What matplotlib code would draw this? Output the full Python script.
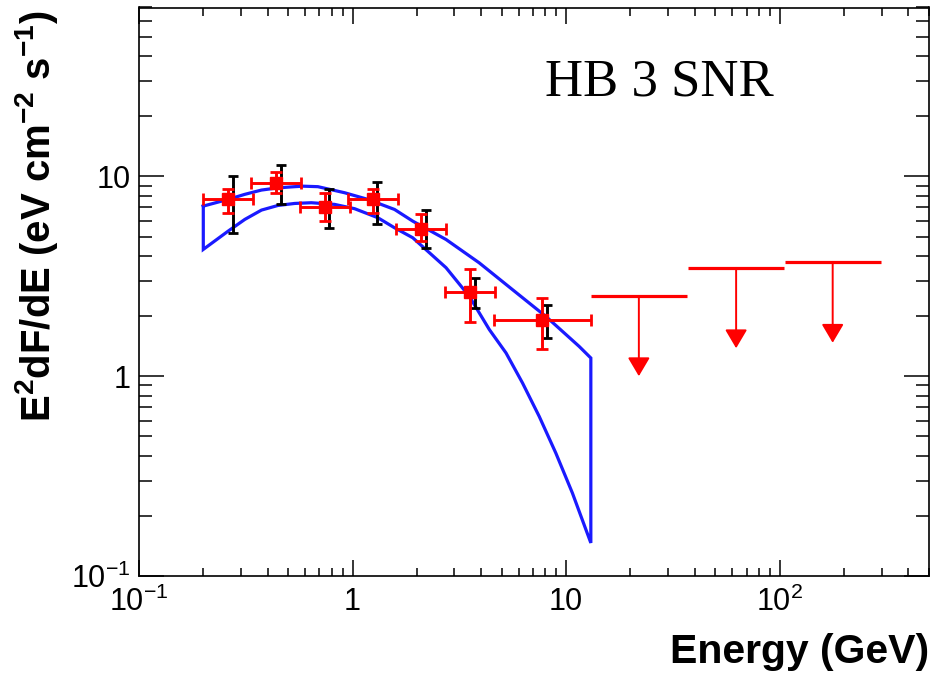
import matplotlib
matplotlib.use("Agg")
import matplotlib.pyplot as plt
import matplotlib.transforms as mtransforms
from matplotlib.ticker import FixedLocator, FixedFormatter, NullFormatter
import numpy as np

# ---------------- data ----------------
pt_x = [0.261, 0.44, 0.74, 1.245, 2.09, 3.55, 7.74]
pt_y = [7.67, 9.29, 7.05, 7.67, 5.48, 2.64, 1.92]
bin_lo = [0.2, 0.336, 0.565, 0.95, 1.6, 2.71, 4.57]
bin_hi = [0.34, 0.575, 0.968, 1.63, 2.74, 4.64, 13.1]
stat_lo = [6.58, 8.28, 5.97, 6.58, 4.74, 1.87, 1.37]
stat_hi = [8.67, 10.5, 8.28, 8.67, 6.46, 3.44, 2.47]
sys_lo = [5.22, 7.24, 5.53, 5.80, 4.40, 2.20, 1.55]
sys_hi = [10.03, 11.35, 8.60, 9.40, 6.78, 3.10, 2.28]

ul_x = [21.9, 62.5, 177.0]
ul_lo = [13.1, 37.2, 106.0]
ul_hi = [36.9, 105.0, 298.0]
ul_y = [2.51, 3.48, 3.73]
ul_end = [1.0, 1.38, 1.47]

band_up_x = [0.2, 0.2614, 0.313, 0.3745, 0.447, 0.536, 0.586, 0.688, 0.918, 1.179,
             1.572, 1.913, 2.74, 3.92, 5.61, 8.04, 11.5, 13.05]
band_up_y = [7.10, 7.67, 8.13, 8.54, 8.76, 8.88, 8.93, 8.88, 8.28, 7.67,
             6.83, 5.97, 4.83, 3.69, 2.71, 1.99, 1.41, 1.233]
band_lo_x = [0.2, 0.2614, 0.313, 0.3745, 0.447, 0.536, 0.641, 0.824, 1.022, 1.313,
             1.572, 1.913, 2.74, 3.52, 4.37, 5.23, 6.25, 7.48, 8.95, 10.7, 13.05]
band_lo_y = [4.31, 5.32, 6.09, 6.78, 7.15, 7.32, 7.38, 7.24, 6.89, 6.21,
             5.53, 4.93, 3.49, 2.51, 1.71, 1.307, 0.924, 0.629, 0.412, 0.26, 0.1464]

x_major = [0.1, 1, 10, 100]
x_major_labels = [r"$10^{-1}$", "1", "10", r"$10^{2}$"]
y_major = [0.1, 1, 10]
y_major_labels = [r"$10^{-1}$", "1", "10"]

title_text = "HB 3 SNR"
xlabel_text = "Energy (GeV)"
ylabel_text = r"E$^{\mathbf{2}}$dF/dE (eV cm$^{\mathbf{-2}}$ s$^{\mathbf{-1}}$)"

# ---------------- style ----------------
plt.rcParams["font.family"] = ["Liberation Sans", "DejaVu Sans"]
plt.rcParams["mathtext.fontset"] = "custom"
plt.rcParams["mathtext.rm"] = "Liberation Sans"
plt.rcParams["mathtext.it"] = "Liberation Sans:italic"
plt.rcParams["mathtext.bf"] = "Liberation Sans:bold"
plt.rcParams["mathtext.default"] = "rm"

fig = plt.figure(figsize=(9.33, 6.73), dpi=100)
ax = fig.add_axes([139 / 933, 1 - 576 / 673, (929 - 139) / 933, (576 - 7.5) / 673])
ax.set_xscale("log")
ax.set_yscale("log")
ax.set_xlim(0.1, 500)
ax.set_ylim(0.1, 70)

# butterfly band
bx = list(band_up_x) + list(band_lo_x[::-1]) + [band_up_x[0]]
by = list(band_up_y) + list(band_lo_y[::-1]) + [band_up_y[0]]
ax.plot(bx, by, color="#1a1aff", lw=2.3, zorder=2, solid_joinstyle="miter")

# systematic (black) error bars, slightly offset in x
px = np.array(pt_x)
py = np.array(pt_y)
off = mtransforms.offset_copy(ax.transData, fig=fig, x=3.3, y=0, units="points")
ax.errorbar(px, py, yerr=[py - np.array(sys_lo), np.array(sys_hi) - py],
            fmt="none", ecolor="black", elinewidth=2.1, capsize=3.4, capthick=2.0,
            transform=off, zorder=3)

# statistical (red) error bars
ax.errorbar(px, py, xerr=[px - np.array(bin_lo), np.array(bin_hi) - px],
            yerr=[py - np.array(stat_lo), np.array(stat_hi) - py],
            fmt="s", color="red", ms=8.2, mec="red", mfc="red",
            elinewidth=2.1, capsize=4.2, capthick=2.0, zorder=4)

# upper limits
for xa, lo, hi, yv, ye in zip(ul_x, ul_lo, ul_hi, ul_y, ul_end):
    ax.plot([lo, hi], [yv, yv], color="red", lw=2.3, solid_capstyle="butt", zorder=4)
    ax.annotate("", xy=(xa, ye), xytext=(xa, yv),
                arrowprops=dict(arrowstyle="-|>,head_length=1.15,head_width=0.68",
                                color="red", lw=1.4, shrinkA=0, shrinkB=0,
                                mutation_scale=10), zorder=4)

# axes / ticks (ROOT style)
for s in ax.spines.values():
    s.set_linewidth(1.2)
ax.xaxis.set_major_locator(FixedLocator(x_major))
ax.xaxis.set_major_formatter(FixedFormatter(x_major_labels))
ax.yaxis.set_major_locator(FixedLocator(y_major))
ax.yaxis.set_major_formatter(FixedFormatter(y_major_labels))
ax.xaxis.set_minor_formatter(NullFormatter())
ax.yaxis.set_minor_formatter(NullFormatter())
ax.tick_params(axis="x", which="major", direction="in", length=11.5, width=1.1,
               top=True, labelsize=22, pad=8)
ax.tick_params(axis="x", which="minor", direction="in", length=5.8, width=1.1, top=True)
ax.tick_params(axis="y", which="major", direction="in", length=18, width=1.1,
               right=True, labelsize=22, pad=6)
ax.tick_params(axis="y", which="minor", direction="in", length=9.4, width=1.1, right=True)

fig.text(929 / 933, 1 - 663 / 673, xlabel_text, ha="right", va="baseline",
         fontsize=29.5, fontweight="bold")
fig.text(37 / 933, 1 - 10 / 673, ylabel_text, ha="center", va="top", rotation=90,
         fontsize=28.9, fontweight="bold")
fig.text(545 / 933, 1 - 95 / 673, title_text, ha="left", va="baseline",
         fontsize=38, family="Liberation Serif")

fig.savefig("out.png", dpi=100)
